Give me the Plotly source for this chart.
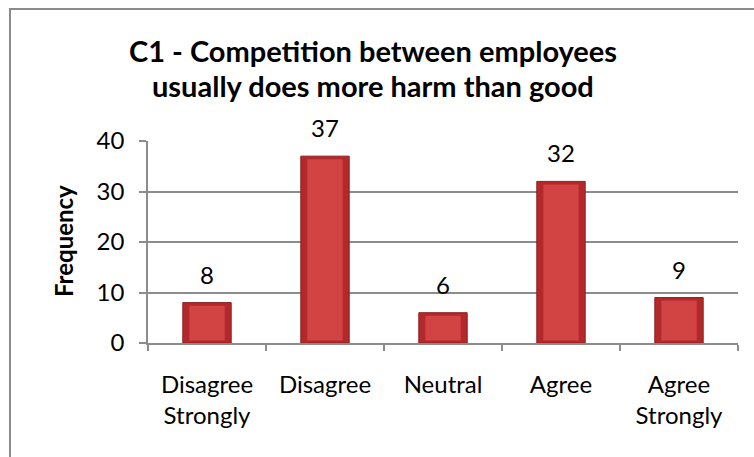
import plotly.graph_objects as go

# Survey item C1: response categories and counts
categories = ["Disagree<br>Strongly", "Disagree", "Neutral", "Agree", "Agree<br>Strongly"]
frequency = [8, 37, 6, 32, 9]
y_ticks = [0, 10, 20, 30, 40]

FONT = "Lato"
W, H = 754, 457
L, R, T, B = 148, 16, 141, 114
PW, PH = W - L - R, H - T - B


def px_x(px):
    return (px - L) / PW


def px_y(py):
    return (H - B - py) / PH


fig = go.Figure()

# main bar body (darker edges)
fig.add_trace(go.Bar(
    x=categories, y=frequency, width=0.41,
    marker=dict(color="#B3292B", line=dict(color="#8E1F20", width=1)),
    hoverinfo="skip", showlegend=False,
))
# lighter bevel face inside each bar
fig.add_trace(go.Bar(
    x=categories, y=[v - 1.1 for v in frequency], base=[0.5] * len(frequency),
    width=0.30,
    marker=dict(color="#D24343", line=dict(width=0)),
    hoverinfo="skip", showlegend=False,
))

# value labels above each bar
value_labels = [
    dict(x=c, y=v, xref="x", yref="y", text=str(v), showarrow=False,
         yanchor="bottom", xanchor="center", yshift=12,
         font=dict(family=FONT, size=24, color="#000000"))
    for c, v in zip(categories, frequency)
]

fig.update_layout(
    width=W, height=H,
    margin=dict(l=L, r=R, t=T, b=B, pad=0),
    paper_bgcolor="white", plot_bgcolor="white",
    barmode="overlay",
    font=dict(family=FONT, size=24, color="#000000"),
    xaxis=dict(
        type="category", tickson="boundaries", ticks="outside", ticklen=6,
        tickcolor="#8c8c8c", tickwidth=1.5,
        showline=True, linecolor="#8c8c8c", linewidth=1.5,
        showgrid=False, tickfont=dict(family=FONT, size=24),
        ticklabelstandoff=19,
    ),
    yaxis=dict(
        range=[0, 40], tickvals=y_ticks, ticks="outside", ticklen=7,
        tickcolor="#8c8c8c", tickwidth=1.5,
        showline=True, linecolor="#8c8c8c", linewidth=1.5,
        showgrid=True, gridcolor="#8c8c8c", gridwidth=1.5,
        zeroline=False, tickfont=dict(family=FONT, size=24),
        ticklabelstandoff=10,
    ),
    annotations=value_labels + [
        dict(text="<b>C1 - Competition between employees</b>",
             xref="paper", yref="paper", x=px_x(373), y=px_y(50),
             xanchor="center", yanchor="middle", showarrow=False,
             font=dict(family=FONT, size=29)),
        dict(text="<b>usually does more harm than good</b>",
             xref="paper", yref="paper", x=px_x(373), y=px_y(85),
             xanchor="center", yanchor="middle", showarrow=False,
             font=dict(family=FONT, size=29)),
        dict(text="<b>Frequency</b>", textangle=-90,
             xref="paper", yref="paper", x=px_x(63), y=px_y(241),
             xanchor="center", yanchor="middle", showarrow=False,
             font=dict(family=FONT, size=24)),
    ],
    shapes=[
        dict(type="rect", xref="paper", yref="paper",
             x0=px_x(10), x1=1.2, y0=-0.8, y1=px_y(9),
             line=dict(color="#8c8c8c", width=2), fillcolor="rgba(0,0,0,0)", layer="below"),
    ],
)

fig.write_html("out.html")
